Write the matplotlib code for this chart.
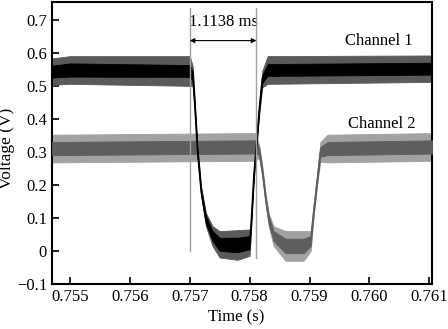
import matplotlib
matplotlib.use('Agg')
import matplotlib.pyplot as plt
import numpy as np

plt.rcParams['font.family'] = ['Liberation Serif', 'DejaVu Serif']
plt.rcParams['font.size'] = 12

# channel 1 (black): time, centre level, core half-width, spike half-width
CH1_T = [0.7547, 0.7550, 0.7570, 0.75705, 0.75708, 0.75713, 0.75719, 0.75727, 0.75738,
         0.7575, 0.7578, 0.7580, 0.75802, 0.75807, 0.75812, 0.75816, 0.75821, 0.7583, 0.7611]
CH1_V = [0.543, 0.548, 0.545, 0.53, 0.45, 0.30, 0.18, 0.095, 0.045,
         0.02, 0.018, 0.025, 0.07, 0.23, 0.34, 0.43, 0.52, 0.548, 0.552]
CH1_CORE = [0.018, 0.02, 0.018, 0.015, 0.01, 0.01, 0.01, 0.012, 0.015,
            0.02, 0.022, 0.02, 0.012, 0.01, 0.01, 0.01, 0.012, 0.018, 0.018]
CH1_SPIKE = [0.04, 0.042, 0.045, 0.03, 0.02, 0.015, 0.015, 0.02, 0.03,
             0.04, 0.045, 0.04, 0.02, 0.015, 0.015, 0.015, 0.025, 0.042, 0.04]

# channel 2 (grey)
CH2_T = [0.7547, 0.7581, 0.75813, 0.75816, 0.75821, 0.75827, 0.75832, 0.7584, 0.7586,
         0.7589, 0.75902, 0.75907, 0.75913, 0.75918, 0.7593, 0.7611]
CH2_V = [0.31, 0.315, 0.31, 0.30, 0.243, 0.153, 0.093, 0.045, 0.015,
         0.015, 0.03, 0.123, 0.22, 0.30, 0.31, 0.315]
CH2_CORE = [0.02, 0.02, 0.015, 0.012, 0.01, 0.01, 0.012, 0.015, 0.022,
            0.022, 0.015, 0.01, 0.01, 0.015, 0.02, 0.02]
CH2_SPIKE = [0.042, 0.042, 0.03, 0.02, 0.015, 0.015, 0.02, 0.03, 0.045,
             0.045, 0.03, 0.015, 0.015, 0.03, 0.042, 0.042]

T_START = 0.757
T_STOP = 0.7581138
DELTA_LABEL = '1.1138 ms'

XTICKS = [0.755, 0.756, 0.757, 0.758, 0.759, 0.760, 0.761]
XTICK_LABELS = ['0.755', '0.756', '0.757', '0.758', '0.759', '0.760', '0.761']
YTICKS = [-0.1, 0, 0.1, 0.2, 0.3, 0.4, 0.5, 0.6, 0.7]
YTICK_LABELS = ['\u22120.1', '0', '0.1', '0.2', '0.3', '0.4', '0.5', '0.6', '0.7']

fig = plt.figure(figsize=(4.48, 3.29), dpi=100)
ax = fig.add_axes([0.116, 0.137, 0.849, 0.857])


def draw_channel(t, v, core, spike, c_core, c_spike):
    t = np.array(t)
    v = np.array(v)
    core = np.array(core)
    spike = np.array(spike)
    ax.fill_between(t, v - spike, v + spike, color=c_spike, lw=0.6, zorder=2)
    ax.fill_between(t, v - core, v + core, color=c_core, lw=0.6, zorder=3)
    ax.plot(t, v, color=c_core, lw=1.0, zorder=3)


draw_channel(CH2_T, CH2_V, CH2_CORE, CH2_SPIKE, '#5e5e5e', '#a2a2a2')
draw_channel(CH1_T, CH1_V, CH1_CORE, CH1_SPIKE, '#000000', '#5a5a5a')

# markers for the delay
ax.plot([T_START, T_START], [0.0, 0.737], color='#a0a0a0', lw=1.0, zorder=4)
ax.plot([T_STOP, T_STOP], [-0.02, 0.737], color='#a0a0a0', lw=1.0, zorder=4)
ax.annotate('', xy=(T_START, 0.637), xytext=(T_STOP, 0.637),
            arrowprops=dict(arrowstyle='<|-|>', color='black', lw=0.8,
                            mutation_scale=7, shrinkA=0, shrinkB=0), zorder=5)
ax.text((T_START + T_STOP) / 2, 0.693, DELTA_LABEL, ha='center', va='center', fontsize=12)

ax.text(0.75959, 0.637, 'Channel 1', ha='left', va='center', fontsize=12)
ax.text(0.75965, 0.385, 'Channel 2', ha='left', va='center', fontsize=12)

ax.set_xlim(0.7547, 0.76105)
ax.set_ylim(-0.1, 0.754)
ax.set_xticks(XTICKS)
ax.set_xticklabels(XTICK_LABELS)
ax.set_yticks(YTICKS)
ax.set_yticklabels(YTICK_LABELS)
ax.tick_params(direction='in', length=5, width=1.2, top=False, right=False, labelsize=12)
for s in ax.spines.values():
    s.set_linewidth(1.5)

ax.set_xlabel('Time (s)', fontsize=12)
ax.set_ylabel('Voltage (V)', fontsize=12.5)
ax.xaxis.set_label_coords(0.484, -0.09)
ax.yaxis.set_label_coords(-0.097, 0.482)

fig.savefig('out.png', dpi=100)
